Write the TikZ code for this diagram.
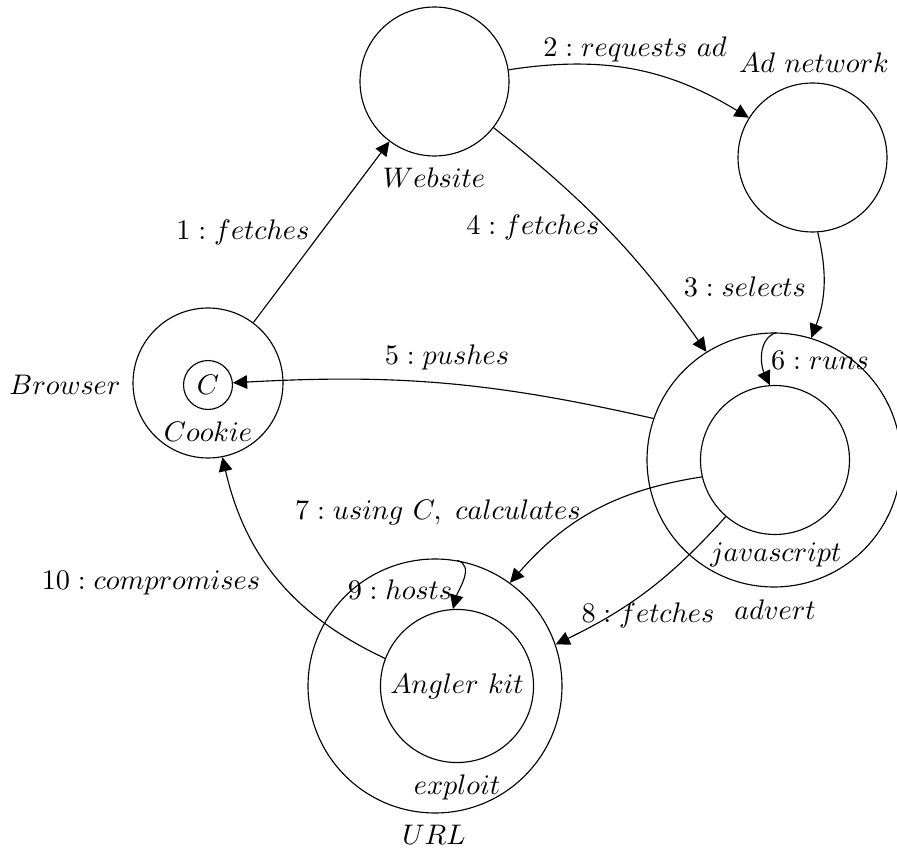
\documentclass[tikz,border=0pt]{standalone}
\usetikzlibrary{arrows.meta}
\begin{document}
\begin{tikzpicture}[x=0.3534pt, y=0.3534pt,
  state/.style={draw, circle, inner sep=0pt, line width=0.4pt},
  small/.style={state, minimum size=52.65pt},
  big/.style={state, minimum size=89.75pt},
  flow/.style={-{Triangle[length=5pt,width=4.8pt]}, line width=0.4pt},
  txt/.style={inner sep=0pt}]
\useasboundingbox (0,0) rectangle (897,-850);

% states
\node[small] (web) at (434.5,-81.5) {};
\node[small] (adnet) at (812.5,-157.5) {};
\node[state, minimum size=53pt] (browser) at (208,-383) {};
\node[state, minimum size=17.3pt] (cookie) at (208,-385) {$C$};
\node[big] (advert) at (774,-460) {};
\node[small] (js) at (775,-460) {};
\node[big] (url) at (435,-686) {};
\node[state, minimum size=54.1pt] (angler) at (457,-686) {$Angler\ kit$};

% state names
\node[txt] (webname) at (434,-178) {$Website$};
\node[txt] (adname) at (814,-63) {$Ad\ network$};
\node[txt] (brname) at (65,-385) {$Browser$};
\node[txt] (ckname) at (208,-432) {$Cookie$};
\node[txt] (jsname) at (776,-555) {$javascript$};
\node[txt] (advname) at (775,-610) {$advert$};
\node[txt] (expname) at (457,-787) {$exploit$};
\node[txt] (urlname) at (434,-835) {$URL$};

% transitions
\draw[flow] (browser) -- (web);
\draw[flow] (web.9) to[bend left=20] (adnet.148);
\draw[flow] (adnet.-86) to[bend left=17] (advert.73);
\draw[flow] (web.-38) to[bend left=8] (advert.122);
\draw[flow] (advert.161) to[bend right=8] (cookie.5);
\draw[flow] (advert.89) to[out=200,in=115] (js.94);
\draw[flow] (js.193) to[bend right=20] (url.54);
\draw[flow] (js.229) to[bend left=11] (url.19);
\draw[flow] (url.80) to[out=-15,in=75] (angler.93);
\draw[flow] (angler.159) to[bend left=26] (browser.-79);

% transition labels
\node[txt] (l1) at (243,-232) {$1 : fetches$};
\node[txt] (l2) at (635,-49) {$2 : requests\ ad$};
\node[txt] (l3) at (745,-287) {$3 : selects$};
\node[txt] (l4) at (533,-227) {$4 : fetches$};
\node[txt] (l5) at (447,-357) {$5 : pushes$};
\node[txt] (l6) at (820,-360) {$6 : runs$};
\node[txt] (l7) at (438,-512) {$7 : using\ C,\ calculates$};
\node[txt] (l8) at (648,-615) {$8 : fetches$};
\node[txt] (l9) at (400,-590) {$9 : hosts$};
\node[txt] (l10) at (151,-583) {$10 : compromises$};
\end{tikzpicture}
\end{document}
